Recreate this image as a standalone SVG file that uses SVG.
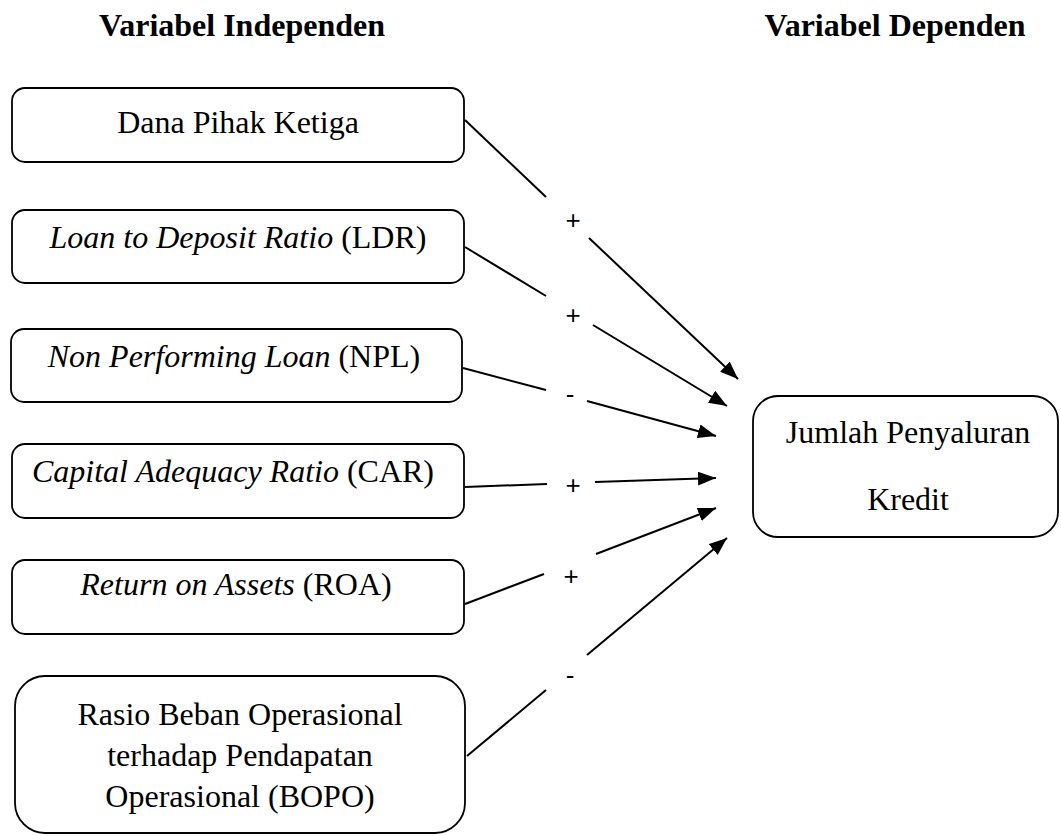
<svg xmlns="http://www.w3.org/2000/svg" width="1061" height="836" viewBox="0 0 1061 836">
<style>
.box{fill:#fff;stroke:#000;stroke-width:1.8}
.t{font-family:"Liberation Serif","Times New Roman",serif;font-size:32px;fill:#000;text-anchor:middle}
.h{font-family:"Liberation Serif","Times New Roman",serif;font-size:32px;font-weight:bold;fill:#000;text-anchor:middle}
.i{font-style:italic}
.l{font-family:"Liberation Sans",Arial,sans-serif;font-size:26px;fill:#000;text-anchor:middle}
.c{fill:none;stroke:#000;stroke-width:2}
</style>
<defs>
<marker id="ah" markerUnits="userSpaceOnUse" markerWidth="20" markerHeight="16" refX="18" refY="7" orient="auto">
<path d="M0,0 L18,7 L0,14 z" fill="#000"/>
</marker>
</defs>
<rect width="1061" height="836" fill="#fff"/>
<g id="titles">
<text class="h" x="242" y="36">Variabel Independen</text>
<text class="h" x="895" y="36">Variabel Dependen</text>
</g>
<g id="dpk">
<rect class="box" x="12" y="88" width="452" height="74" rx="13"/>
<text class="t" x="238" y="133">Dana Pihak Ketiga</text>
</g>
<g id="ldr">
<rect class="box" x="12" y="210" width="452" height="73" rx="13"/>
<text class="t" x="238" y="248"><tspan class="i">Loan to Deposit Ratio</tspan> (LDR)</text>
</g>
<g id="npl">
<rect class="box" x="11" y="329" width="451" height="73" rx="13"/>
<text class="t" x="234" y="367"><tspan class="i">Non Performing Loan</tspan> (NPL)</text>
</g>
<g id="car">
<rect class="box" x="12" y="444" width="452" height="74" rx="13"/>
<text class="t" x="233" y="482"><tspan class="i">Capital Adequacy Ratio</tspan> (CAR)</text>
</g>
<g id="roa">
<rect class="box" x="12" y="560" width="452" height="74" rx="13"/>
<text class="t" x="236" y="595"><tspan class="i">Return on Assets</tspan> (ROA)</text>
</g>
<g id="bopo">
<rect class="box" x="15" y="676" width="450" height="157" rx="30"/>
<text class="t" x="240" y="725">Rasio Beban Operasional</text>
<text class="t" x="240" y="766">terhadap Pendapatan</text>
<text class="t" x="240" y="807">Operasional (BOPO)</text>
</g>
<g id="kredit">
<rect class="box" x="753" y="396" width="305" height="141" rx="25"/>
<text class="t" x="908" y="443">Jumlah Penyaluran</text>
<text class="t" x="908" y="510">Kredit</text>
</g>
<g id="connectors">
<line class="c" x1="465" y1="120" x2="546" y2="197"/>
<line class="c" x1="589" y1="238" x2="738" y2="379" marker-end="url(#ah)"/>
<line class="c" x1="465" y1="247" x2="546" y2="296"/>
<line class="c" x1="593" y1="325" x2="727" y2="406" marker-end="url(#ah)"/>
<line class="c" x1="463" y1="368" x2="546" y2="390"/>
<line class="c" x1="587" y1="401" x2="716" y2="436" marker-end="url(#ah)"/>
<line class="c" x1="465" y1="487" x2="547" y2="484"/>
<line class="c" x1="595" y1="482" x2="716" y2="478" marker-end="url(#ah)"/>
<line class="c" x1="465" y1="604" x2="544" y2="574"/>
<line class="c" x1="596" y1="554" x2="716" y2="508" marker-end="url(#ah)"/>
<line class="c" x1="467" y1="756" x2="546" y2="690"/>
<line class="c" x1="587" y1="655" x2="727" y2="538" marker-end="url(#ah)"/>
</g>
<g id="labels">
<text class="l" x="573" y="229">+</text>
<text class="l" x="573" y="324">+</text>
<text class="l" x="570" y="403">-</text>
<text class="l" x="573" y="494">+</text>
<text class="l" x="571" y="585">+</text>
<text class="l" x="570" y="684">-</text>
</g>
</svg>
